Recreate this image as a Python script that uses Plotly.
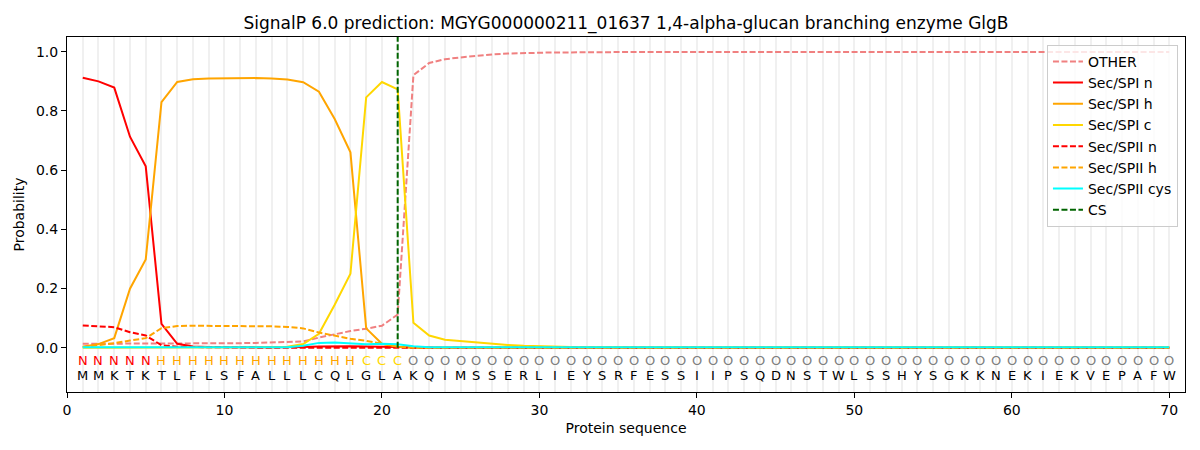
import plotly.graph_objects as go

# SignalP 6.0 output for MGYG000000211_01637
sequence = list("MMKTKTLFLSFALLLCQLGLAKQIMSSERLIEYSRFESSIIPSQDNSTWLSSHYSGKKNEKIEKVEPAFW")
regions = list("NNNNN" + "H" * 13 + "CCC" + "O" * 49)
positions = list(range(1, len(sequence) + 1))
cs_pos = 21

other = [0.013, 0.013, 0.013, 0.013, 0.013, 0.013, 0.013, 0.014, 0.014, 0.015,
         0.015, 0.016, 0.017, 0.018, 0.021, 0.034, 0.046, 0.056, 0.064, 0.074,
         0.112, 0.921, 0.962, 0.975, 0.981, 0.987, 0.991, 0.994, 0.996, 0.997,
         0.998, 0.998, 0.999, 0.999, 0.999, 0.999, 0.999, 0.999, 0.999, 0.999] + [0.999] * 30
sp_n = [0.912, 0.900, 0.879, 0.713, 0.613, 0.080, 0.013, 0.004, 0.002, 0.001,
        0.001, 0.001, 0.001, 0.001, 0.002, 0.004, 0.005, 0.005, 0.004, 0.003,
        0.002] + [0.0] * 49
sp_h = [0.003, 0.012, 0.032, 0.199, 0.298, 0.830, 0.898, 0.907, 0.910, 0.911,
        0.911, 0.911, 0.910, 0.906, 0.897, 0.865, 0.773, 0.660, 0.065, 0.013,
        0.003] + [0.0] * 49
sp_c = [0.0] * 12 + [0.001, 0.003, 0.012, 0.047, 0.145, 0.250, 0.846, 0.898,
        0.873, 0.084, 0.041, 0.027, 0.022, 0.017, 0.013, 0.009, 0.006, 0.004,
        0.003, 0.002, 0.002, 0.001] + [0.001] * 36
sp2_n = [0.075, 0.073, 0.069, 0.052, 0.041, 0.008, 0.003, 0.002, 0.001, 0.001] + [0.0] * 60
sp2_h = [0.002, 0.008, 0.015, 0.024, 0.032, 0.066, 0.073, 0.074, 0.074, 0.074,
         0.073, 0.073, 0.072, 0.070, 0.065, 0.051, 0.040, 0.030, 0.023, 0.014,
         0.003] + [0.0] * 49
sp2_cys = [0.001] * 14 + [0.006, 0.016, 0.017, 0.015, 0.011, 0.013, 0.011, 0.005] + [0.001] * 48

region_colors = {"N": "red", "H": "orange", "C": "gold", "O": "grey"}

fig = go.Figure()

series = [
  ("OTHER", other, "lightcoral", "dash"),
  ("Sec/SPI n", sp_n, "red", "solid"),
  ("Sec/SPI h", sp_h, "orange", "solid"),
  ("Sec/SPI c", sp_c, "gold", "solid"),
  ("Sec/SPII n", sp2_n, "red", "dash"),
  ("Sec/SPII h", sp2_h, "orange", "dash"),
  ("Sec/SPII cys", sp2_cys, "cyan", "solid"),
]
for name, vals, col, dash in series:
  fig.add_trace(go.Scatter(
    x=positions, y=vals, name=name, mode="lines",
    line=dict(color=col, width=2, dash="6px,2.5px" if dash == "dash" else "solid")
  ))

# cleavage site
fig.add_trace(go.Scatter(
  x=[cs_pos, cs_pos], y=[0, 1.05], name="CS", mode="lines",
  line=dict(color="darkgreen", width=2, dash="6px,2.5px")
))

# residue letters and region labels under the curves
for p, aa, reg in zip(positions, sequence, regions):
  fig.add_annotation(x=p, y=-0.045, text=reg, showarrow=False,
                     font=dict(size=13, color=region_colors[reg]))
  fig.add_annotation(x=p, y=-0.095, text=aa, showarrow=False,
                     font=dict(size=13, color="black"))

# page body has an 8px margin, so the figure is a bit smaller than the window
fig.update_layout(
  width=1184, height=434,
  plot_bgcolor="white", paper_bgcolor="white",
  font=dict(family="DejaVu Sans", size=14, color="black"),
  title=dict(text="SignalP 6.0 prediction: MGYG000000211_01637 1,4-alpha-glucan branching enzyme GlgB",
             x=0.5, xanchor="center", xref="paper", y=0.965, yanchor="middle",
             font=dict(size=17), automargin=False),
  margin=dict(l=59, r=7, t=29, b=50, autoexpand=False),
  legend=dict(x=0.9937, y=0.978, xanchor="right", yanchor="top",
              bgcolor="rgba(255,255,255,0.8)", bordercolor="#cccccc", borderwidth=1,
              font=dict(size=14), tracegroupgap=0),
  showlegend=True,
)

fig.update_xaxes(
  range=[0, 71], tickmode="array", tickvals=[0, 10, 20, 30, 40, 50, 60, 70],
  showline=True, linecolor="black", linewidth=1, mirror=True,
  ticks="outside", ticklen=5, tickcolor="black",
  showgrid=True, gridcolor="#f0f0f0", gridwidth=2,
  minor=dict(tickmode="linear", tick0=0, dtick=1, showgrid=True, gridcolor="#f0f0f0", gridwidth=2, ticks=""),
  zeroline=False, automargin=False,
  title=dict(text="Protein sequence", font=dict(size=14), standoff=6),
)
fig.update_yaxes(
  range=[-0.15, 1.05], tickmode="array", tickvals=[0, 0.2, 0.4, 0.6, 0.8, 1.0],
  tickformat=".1f",
  showline=True, linecolor="black", linewidth=1, mirror=True,
  ticks="outside", ticklen=5, tickcolor="black",
  showgrid=False, zeroline=False, automargin=False,
  title=dict(text="Probability", font=dict(size=14), standoff=8),
)

fig.write_html("out.html")
